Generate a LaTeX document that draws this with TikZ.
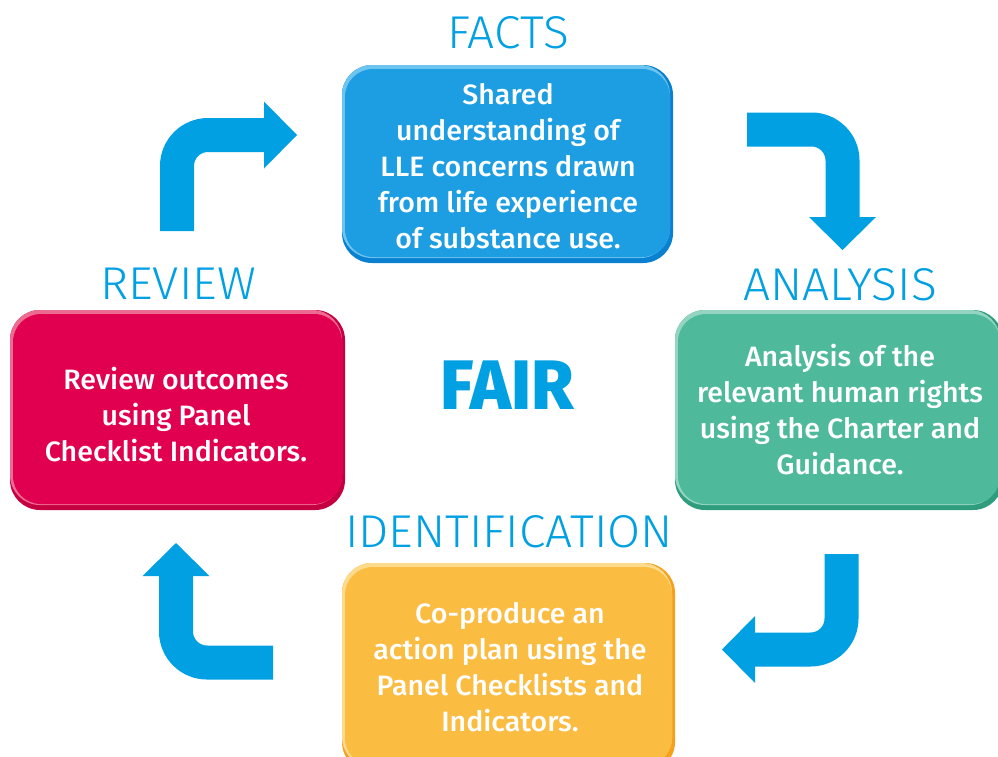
\documentclass[tikz,border=0pt]{standalone}
\usepackage{fontspec}
\usetikzlibrary{arrows.meta}
\setmainfont{Fira Sans}
\newfontfamily\bodyfont{Fira Sans Medium}[FakeStretch=1.02]
\newfontfamily\headfont{Fira Sans Light}[FakeStretch=1.04]
\newfontfamily\fairfont{Fira Sans ExtraBold}[FakeStretch=0.98]

\definecolor{cyanblue}{HTML}{00A0E3}
\definecolor{factsbase}{HTML}{1D9DE2}
\definecolor{factsdark}{HTML}{0A80D0}
\definecolor{factslight}{HTML}{6CC4EF}
\definecolor{anabase}{HTML}{4FB99B}
\definecolor{anadark}{HTML}{2F9D7D}
\definecolor{analight}{HTML}{93D5C1}
\definecolor{revbase}{HTML}{E1004F}
\definecolor{revdark}{HTML}{C50042}
\definecolor{revlight}{HTML}{EC6B91}
\definecolor{idbase}{HTML}{FBBC42}
\definecolor{iddark}{HTML}{F6A01C}
\definecolor{idlight}{HTML}{FDDA8C}

% bevelled rounded panel: corners (#1,#2)-(#3,#4), colours dark/light/base
\newcommand\bevelbox[7]{%
  \fill[#5, rounded corners=30pt] (#1,#2) rectangle (#3,#4);
  \fill[#6, rounded corners=30pt] (#1,#2) rectangle (#3-3,#4-5);
  \fill[#7, rounded corners=28pt] (#1+3,#2+4) rectangle (#3-3,#4-6);
}

\begin{document}
\begin{tikzpicture}[x=1pt,y=-1pt,
  flow/.style={line width=34pt, draw=cyanblue, rounded corners=31pt, line cap=butt,
    -{Triangle[length=33pt,width=67pt,line width=0pt]}},
  heading/.style={text=cyanblue, font=\headfont\fontsize{46}{46}\selectfont,
    anchor=base, inner sep=0pt},
  boxtext/.style={text=white, font=\bodyfont\fontsize{28}{36}\selectfont,
    align=center, inner sep=0pt}]
\useasboundingbox (0,0) rectangle (998,756);

% panels
\bevelbox{342}{65}{673}{263}{factsdark}{factslight}{factsbase}
\bevelbox{675}{310}{1003}{510}{anadark}{analight}{anabase}
\bevelbox{10}{310}{345}{510}{revdark}{revlight}{revbase}
\bevelbox{342}{563}{675}{772}{iddark}{idlight}{idbase}

% panel texts
\node[boxtext] (facts) at (508,166)
  {Shared\\understanding of\\LLE concerns drawn\\from life experience\\of substance use.};
\node[boxtext] (analysis) at (840,410)
  {Analysis of the\\relevant human rights\\using the Charter and\\Guidance.};
\node[boxtext] (review) at (176,415)
  {Review outcomes\\using Panel\\Checklist Indicators.};
\node[boxtext] (ident) at (510,667)
  {Co-produce an\\action plan using the\\Panel Checklists and\\Indicators.};

% stage headings
\node[heading] (hfacts) at (508,48) {FACTS};
\node[heading] (hana) at (840,300) {ANALYSIS};
\node[heading] (hrev) at (178,299) {REVIEW};
\node[heading] (hid) at (509,547) {IDENTIFICATION};
\node[text=cyanblue, font=\fairfont\fontsize{70}{70}\selectfont, anchor=base,
  inner sep=0pt] (fair) at (507.5,409) {FAIR};

% cycle arrows
\coordinate (a1s) at (177,231);  \coordinate (a1e) at (297,135);
\coordinate (a2s) at (747,129.5); \coordinate (a2e) at (842.5,250);
\coordinate (a3s) at (841.5,554); \coordinate (a3e) at (722,649.5);
\coordinate (a4s) at (273,662.5); \coordinate (a4e) at (176,543);
\draw[flow] (a1s) |- (a1e);
\draw[flow] (a2s) -| (a2e);
\draw[flow] (a3s) |- (a3e);
\draw[flow] (a4s) -| (a4e);
\end{tikzpicture}
\end{document}
